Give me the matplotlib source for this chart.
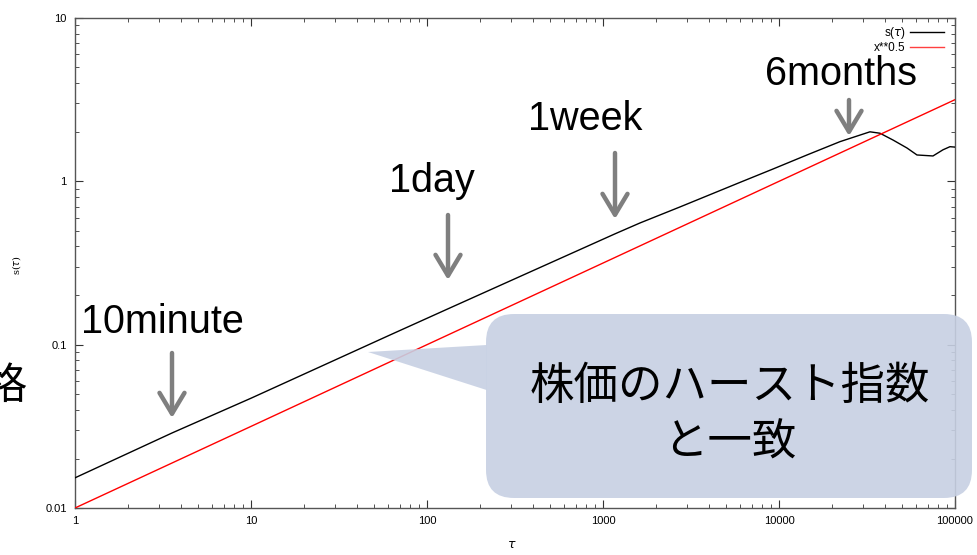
import matplotlib
matplotlib.use("Agg")
import matplotlib.pyplot as plt
import matplotlib.transforms as mtransforms
from matplotlib.patches import FancyBboxPatch, Polygon, FancyArrowPatch
from matplotlib.ticker import LogLocator, NullFormatter, FixedFormatter, FixedLocator

# ---- data ----
tau_black = [1, 3.56, 10, 61.6, 132, 300, 1170, 1622, 2738, 6000, 9250, 14420,
             22220, 32870, 37480, 44450, 53350, 60810, 74980, 85460, 93660, 100000]
s_tau = [0.0153, 0.0288, 0.047, 0.1146, 0.166, 0.247, 0.477, 0.556, 0.697, 0.985,
         1.19, 1.45, 1.75, 2.01, 1.97, 1.79, 1.60, 1.45, 1.43, 1.56, 1.63, 1.62]
tau_red = [1, 10, 100, 1000, 10000, 100000]
x_pow = [0.01, 0.0316, 0.1, 0.316, 1.0, 3.162]

xticks = [1, 10, 100, 1000, 10000, 100000]
xtick_labels = ["1", "10", "100", "1000", "10000", "100000"]
yticks = [0.01, 0.1, 1, 10]
ytick_labels = ["0.01", "0.1", "1", "10"]

annot_labels = ["10minute", "1day", "1week", "6months"]
callout_text = "株価のハースト指数\nと一致"

W, H = 977, 555
fig = plt.figure(figsize=(W / 100, H / 100), dpi=100)
# transform: image pixel coords (origin top-left)
T = mtransforms.Affine2D().scale(1 / 100, -1 / 100).translate(0, H / 100) + fig.dpi_scale_trans

ax = fig.add_axes([75 / W, 1 - 508 / H, 880 / W, 490 / H])
ax.set_xscale("log")
ax.set_yscale("log")
ax.set_xlim(1, 100000)
ax.set_ylim(0.01, 10)

ax.plot(tau_black, s_tau, color="black", lw=1.0, label="s($\\tau$)", zorder=3)
ax.plot(tau_red, x_pow, color="red", lw=1.0, label="x**0.5", zorder=3)

ax.xaxis.set_major_locator(FixedLocator(xticks))
ax.xaxis.set_major_formatter(FixedFormatter(xtick_labels))
ax.yaxis.set_major_locator(FixedLocator(yticks))
ax.yaxis.set_major_formatter(FixedFormatter(ytick_labels))
ax.xaxis.set_minor_locator(LogLocator(base=10, subs=range(2, 10), numticks=20))
ax.yaxis.set_minor_locator(LogLocator(base=10, subs=range(2, 10), numticks=20))
ax.xaxis.set_minor_formatter(NullFormatter())
ax.yaxis.set_minor_formatter(NullFormatter())

ax.tick_params(which="both", direction="in", top=True, right=True, colors="#333333")
ax.tick_params(which="major", length=6, width=0.8, pad=6, labelsize=8)
ax.tick_params(which="minor", length=3, width=0.6)
for lab in ax.get_xticklabels() + ax.get_yticklabels():
    lab.set_fontfamily("Liberation Sans")
    lab.set_color("black")
for sp in ax.spines.values():
    sp.set_color("#555555")
    sp.set_linewidth(1.0)

leg = ax.legend(loc="upper right", frameon=False, markerfirst=False, fontsize=8.5,
                handlelength=2.8, labelspacing=0.05, borderaxespad=0.2,
                bbox_to_anchor=(0.995, 1.0), handletextpad=0.4)
for t in leg.get_texts():
    t.set_fontfamily("Liberation Sans")
leg.get_lines()[1].set_color("#ff4040")

# axis labels
fig.text(17, 265, "s($\\tau$)", transform=T, rotation=90, ha="center", va="center",
         fontsize=7, family="DejaVu Serif")
fig.text(512, 545, "$\\tau$", transform=T, ha="center", va="center", fontsize=9)

# annotation texts and arrows
anno_font = dict(family="Liberation Sans", size=28.5, color="black")
text_pos = [(162, 333), (432, 192), (585, 130), (841, 85)]
arrow_pos = [(172, 353, 418), (448, 215, 280), (615, 153, 219), (849, 100, 136)]
for lab, (tx, ty) in zip(annot_labels, text_pos):
    fig.text(tx, ty, lab, transform=T, ha="center", va="baseline", **anno_font)
for (axp, y0, y1) in arrow_pos:
    fig.add_artist(FancyArrowPatch(
        (axp, y0), (axp, y1), transform=T,
        arrowstyle="->,head_length=0.75,head_width=0.45", mutation_scale=20,
        color="#7f7f7f", lw=3.2, shrinkA=0, shrinkB=0, zorder=5))

# callout
cfc = (199 / 255, 208 / 255, 227 / 255)
box = FancyBboxPatch((486, 314), 486, 184, boxstyle="round,pad=0,rounding_size=28",
                     transform=T, facecolor=cfc, edgecolor="none", alpha=0.9, zorder=6)
fig.add_artist(box)
ptr = Polygon([(486.5, 345), (368, 352), (486.5, 390)], closed=True, transform=T,
              facecolor=cfc, edgecolor="none", alpha=0.9, zorder=6)
fig.add_artist(ptr)
fig.text(730, 414, callout_text, transform=T, ha="center", va="center",
         fontsize=32, family=["Noto Sans CJK JP", "DejaVu Sans"], linespacing=1.3,
         zorder=7)

# partially visible character at left edge (cut off as in the reference)
fig.text(27, 387, "格", transform=T, ha="right", va="center", fontsize=31,
         family=["Noto Sans CJK JP", "DejaVu Sans"])

fig.savefig("out.png", dpi=100)
